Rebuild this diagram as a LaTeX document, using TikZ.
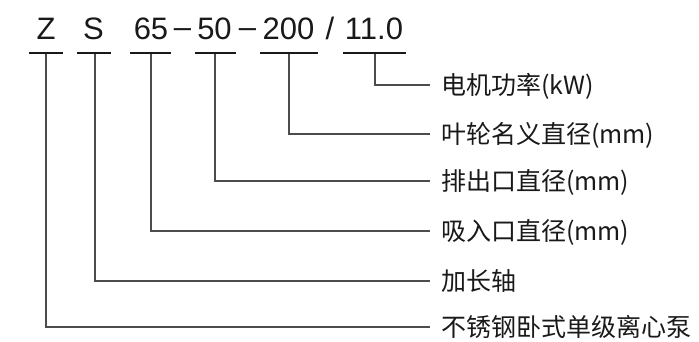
\documentclass[tikz,border=0pt]{standalone}
\usepackage{fontspec}
\setmainfont{Liberation Sans}
\newfontfamily\cjk{Noto Sans CJK SC}

\begin{document}
\begin{tikzpicture}[x=1pt,y=-1pt,
        code/.style={font=\fontsize{31}{31}\selectfont,anchor=base,inner sep=0pt,text=black!90},
        bar/.style={line width=2.5pt,black!90},
        leader/.style={line width=1.3pt,black!70},
        label/.style={font=\cjk\fontsize{25}{25}\selectfont,anchor=west,inner xsep=11pt,inner ysep=0pt,
            text height=20.75pt,text depth=1.75pt,text=black!90}]
    \useasboundingbox (0,0) rectangle (699,342);

    % model code
    \node[code] (z) at (46,40) {Z};
    \node[code] (s) at (93.5,40) {S};
    \node[code] (inlet) at (151,40) {65};
    \node[code] (d1) at (182.5,40) {\raisebox{2.5pt}{–}};
    \node[code] (outlet) at (214.5,40) {50};
    \node[code] (d2) at (247.5,40) {\raisebox{2.5pt}{–}};
    \node[code] (impeller) at (288.5,40) {200};
    \node[code] (sl) at (330,40) {/};
    \node[code] (power) at (374,40) {11.0};

    % bars under the code
    \draw[bar] (29,53) -- (63,53);
    \draw[bar] (77,53) -- (111,53);
    \draw[bar] (130,53) -- (171,53);
    \draw[bar] (195,53) -- (236,53);
    \draw[bar] (260,53) -- (318,53);
    \draw[bar] (343,53) -- (406,53);
    \coordinate (zb) at (46,54);
    \coordinate (sb) at (95,54);
    \coordinate (inletb) at (151,54);
    \coordinate (outletb) at (215,54);
    \coordinate (impellerb) at (289,54);
    \coordinate (powerb) at (375,54);

    % meanings
    \node[label] (lpower) at (430,85) {电机功率(kW)};
    \node[label] (limpeller) at (430,134) {叶轮名义直径(mm)};
    \node[label] (loutlet) at (430,181) {排出口直径(mm)};
    \node[label] (linlet) at (430,231) {吸入口直径(mm)};
    \node[label] (ls) at (430,281) {加长轴};
    \node[label] (lz) at (430,327) {不锈钢卧式单级离心泵};

    \draw[leader] (powerb) |- (lpower.west);
    \draw[leader] (impellerb) |- (limpeller.west);
    \draw[leader] (outletb) |- (loutlet.west);
    \draw[leader] (inletb) |- (linlet.west);
    \draw[leader] (sb) |- (ls.west);
    \draw[leader] (zb) |- (lz.west);
\end{tikzpicture}
\end{document}
